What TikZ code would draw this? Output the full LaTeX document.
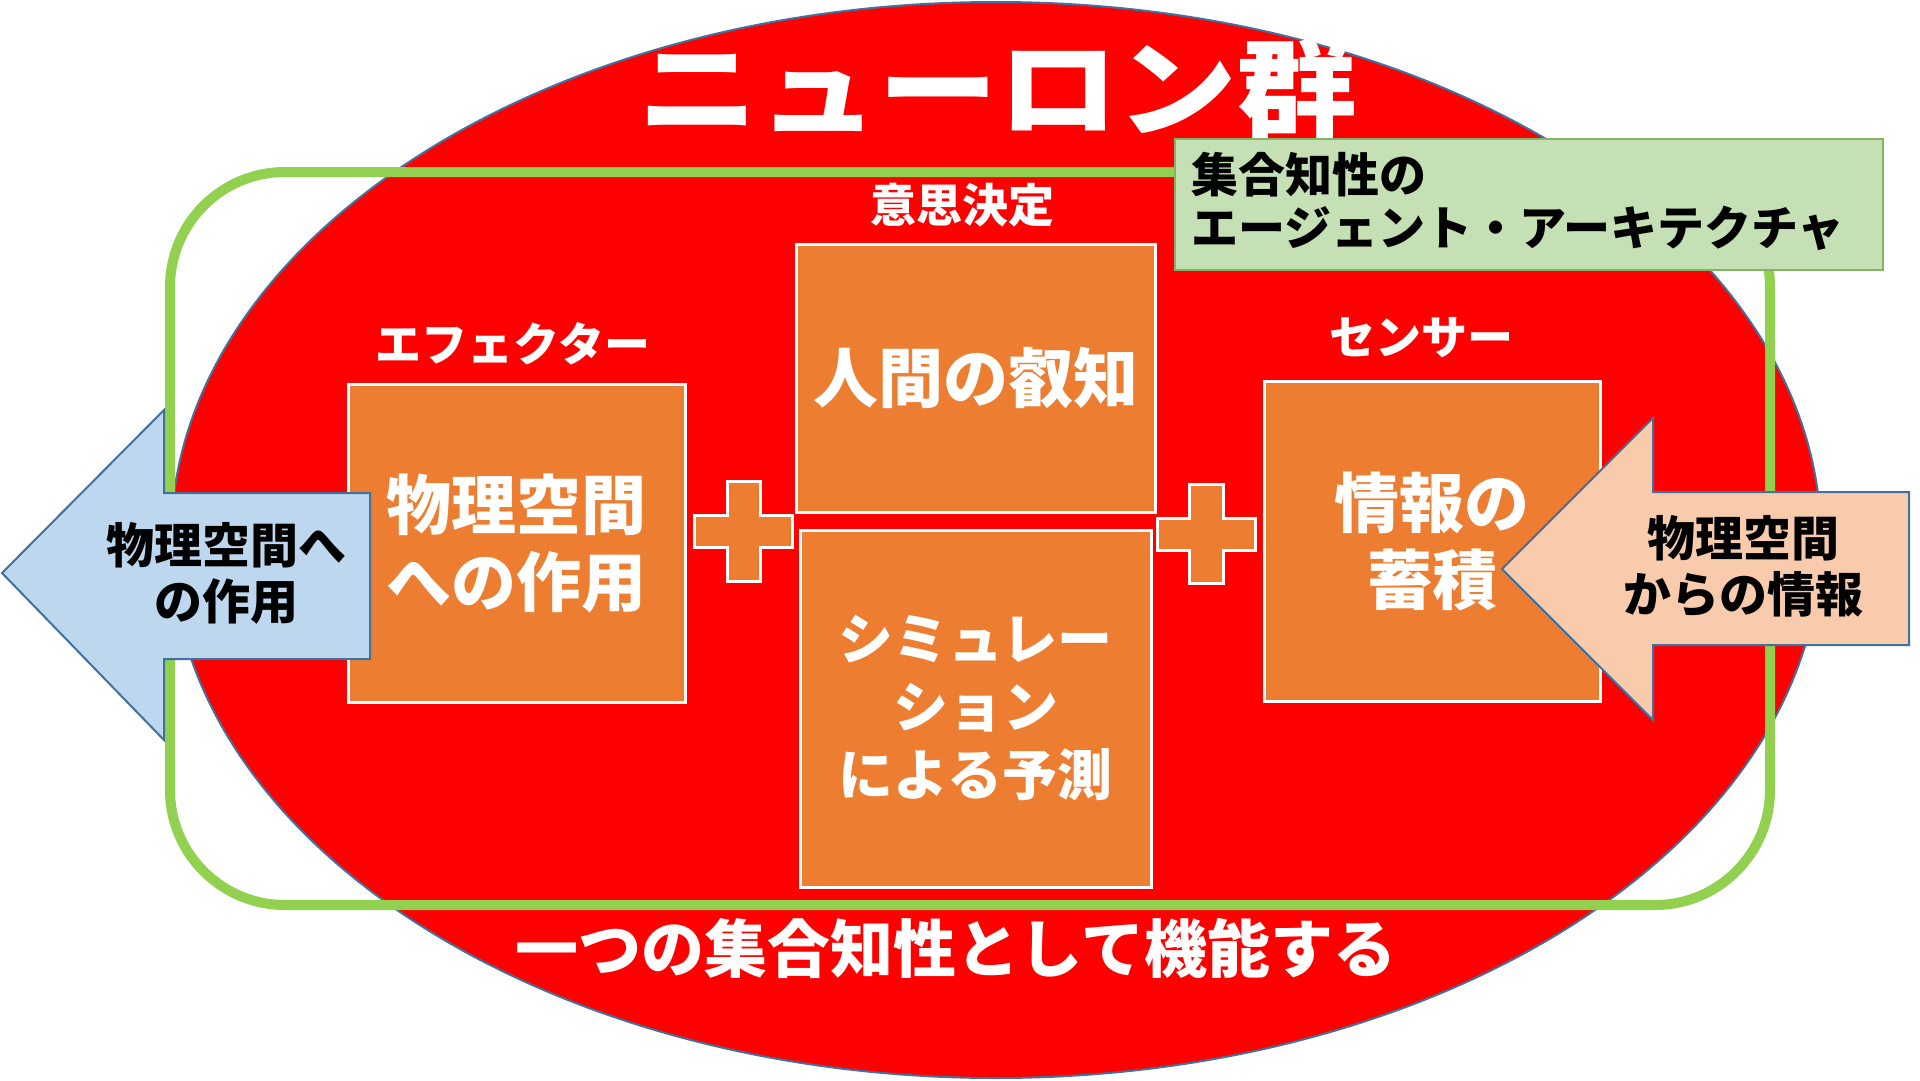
\documentclass[tikz,border=0pt]{standalone}
\usepackage{fontspec}
\usetikzlibrary{shapes.geometric}
\setmainfont{Noto Sans CJK JP}
\definecolor{nred}{HTML}{FF0000}
\definecolor{eborder}{HTML}{41719C}
\definecolor{boxorange}{HTML}{ED7D31}
\definecolor{loopgreen}{HTML}{92D050}
\definecolor{lgreen}{HTML}{C5E0B4}
\definecolor{lgborder}{HTML}{82B366}
\definecolor{lblue}{HTML}{BDD7EE}
\definecolor{peach}{HTML}{F8CBAD}
\newcommand{\jsz}[2]{\fontsize{#1}{#2}\selectfont}
\tikzset{
  obox/.style={draw=white, line width=3pt, fill=boxorange, inner sep=0pt},
  wtxt/.style={text=white, align=center, inner sep=0pt},
  btxt/.style={text=black, align=center, inner sep=0pt},
  arrowshape/.style={draw=eborder, line width=2pt, line join=miter},
  plusshape/.style={draw=white, line width=3pt, fill=boxorange},
}
\begin{document}
\begin{tikzpicture}[x=1pt,y=-1pt]
\useasboundingbox[fill=white] (0,0) rectangle (1920,1080);
% neuron ellipse
\node[draw=eborder, fill=nred, line width=2pt, ellipse, minimum width=1650pt, minimum height=1076pt, inner sep=0pt] (neurons) at (996,540) {};
% collective intelligence loop
\draw[loopgreen, line width=10pt, rounded corners=115pt] (170,172) rectangle (1770,905);
% title
\node[wtxt, font=\bfseries\jsz{107}{107}] (title) at (998,88) {\scalebox{1.12}[1]{ニューロン群}};
% boxes
\node[obox, minimum width=337pt, minimum height=318pt, wtxt, font=\bfseries\jsz{65}{77}] (effector) at (516.5,543) {物理空間\\への作用};
\node[obox, minimum width=359pt, minimum height=268pt, wtxt, font=\bfseries\jsz{65}{77}] (wisdom) at (975.5,378) {人間の叡知};
\node[obox, minimum width=351pt, minimum height=357pt, wtxt, font=\bfseries\jsz{55}{68}] (sim) at (975.5,708.5) {シミュレー\\ション\\による予測};
\node[obox, minimum width=336pt, minimum height=320pt, wtxt, font=\bfseries\jsz{65}{77}] (sensor) at (1432,541) {情報の\\蓄積};
% plus signs
\draw[plusshape] (727,481) -- (760,481) -- (760,515) -- (792,515) -- (792,547) -- (760,547) -- (760,581) -- (727,581) -- (727,547) -- (694,547) -- (694,515) -- (727,515) -- cycle;
\draw[plusshape] (1189,484) -- (1223,484) -- (1223,518) -- (1255,518) -- (1255,550) -- (1223,550) -- (1223,583) -- (1189,583) -- (1189,550) -- (1157,550) -- (1157,518) -- (1189,518) -- cycle;
% small labels
\node[wtxt, font=\bfseries\jsz{46}{46}] (efflabel) at (513,344) {エフェクター};
\node[wtxt, font=\bfseries\jsz{46}{46}] (declabel) at (962,205) {意思決定};
\node[wtxt, font=\bfseries\jsz{46}{46}] (senlabel) at (1421,338) {センサー};
% bottom caption
\node[wtxt, font=\bfseries\jsz{63}{63}] (caption) at (956,948) {一つの集合知性として機能する};
% left arrow (action to physical space)
\draw[arrowshape, fill=lblue] (2,573) -- (164,410) -- (164,493) -- (370,493) -- (370,659) -- (164,659) -- (164,740) -- cycle;
\node[btxt, font=\bfseries\jsz{48}{56}] (acttxt) at (226,573) {物理空間へ\\の作用};
% right arrow (information from physical space)
\draw[arrowshape, fill=peach] (1502,569) -- (1653,418) -- (1653,492) -- (1909,492) -- (1909,645) -- (1653,645) -- (1653,720) -- cycle;
\node[btxt, font=\bfseries\jsz{48}{56}] (infotxt) at (1743,566) {物理空間\\からの情報};
% architecture label
\node[draw=lgborder, fill=lgreen, line width=2pt, minimum width=708pt, minimum height=131pt, anchor=north west, inner sep=0pt] (arch) at (1174,138) {};
\node[text=black, align=left, anchor=west, inner sep=0pt, font=\bfseries\jsz{47}{53}] (archtxt) at (1191,201.5) {集合知性の\\エージェント・アーキテクチャ};
\end{tikzpicture}
\end{document}
